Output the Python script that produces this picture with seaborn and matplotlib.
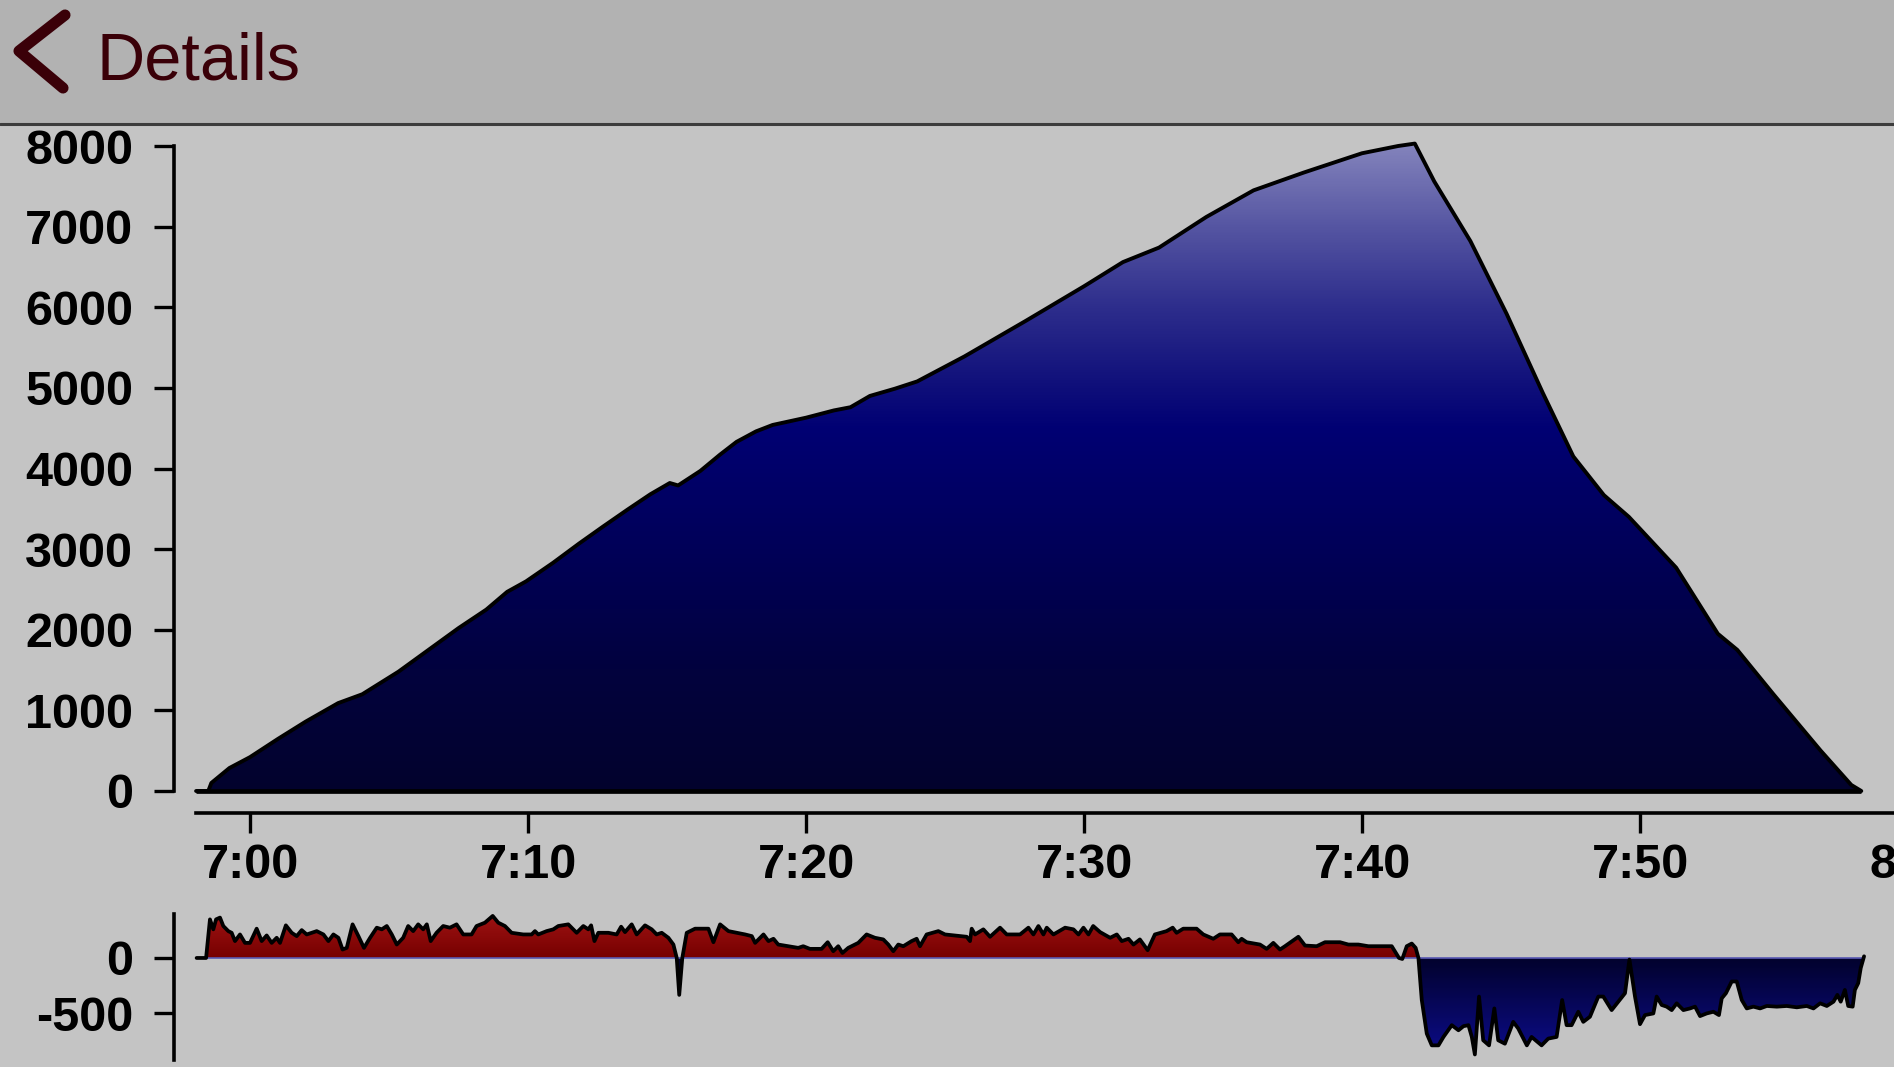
import numpy as np
import pandas as pd
import matplotlib
matplotlib.use("Agg")
import matplotlib.pyplot as plt
import seaborn as sns
from matplotlib.colors import LinearSegmentedColormap
from matplotlib.path import Path
from matplotlib.lines import Line2D
from matplotlib.patches import Rectangle

# ---------------- data ----------------
title_text = "Details"

# altitude profile (minutes after 7:00, value)
alt_minutes = [-1.94, -1.5, -1.39, -0.74, 0.0, 1.0, 2.0, 3.17, 4.04, 5.34, 6.5, 7.5,
               8.5, 9.25, 9.93, 10.9, 11.84, 12.7, 13.58, 14.4, 15.1, 15.4, 16.2,
               16.9, 17.5, 18.2, 18.8, 20.0, 21.0, 21.6, 22.3, 23.2, 24.0, 25.7,
               27.9, 30.0, 31.4, 32.7, 34.4, 36.1, 37.9, 40.0, 41.3, 41.9, 42.6,
               43.9, 45.2, 46.5, 47.6, 48.7, 49.6, 51.3, 52.8, 53.5, 54.8, 56.5,
               57.6, 57.96]
alt_values = [0, 0, 100, 285, 420, 645, 860, 1090, 1200, 1480, 1770, 2020,
              2250, 2470, 2600, 2830, 3070, 3280, 3490, 3680, 3820, 3790, 3970,
              4170, 4330, 4460, 4540, 4630, 4720, 4760, 4900, 4990, 5080, 5390,
              5830, 6260, 6560, 6740, 7120, 7450, 7670, 7910, 8000, 8030, 7560,
              6820, 5920, 4940, 4150, 3670, 3400, 2770, 1950, 1750, 1200, 500,
              75, 0]

# rate of change (minutes after 7:00, value)
rate_minutes = [
    -1.92, -1.58, -1.44, -1.32, -1.22, -1.08, -0.96, -0.78, -0.66, -0.54, -0.36, -0.18,
    0.0, 0.24, 0.42, 0.6, 0.78, 0.96, 1.08, 1.29, 1.5, 1.68, 1.86, 2.04, 2.4, 2.64,
    2.82, 3.0, 3.18, 3.33, 3.48, 3.69, 3.9, 4.1, 4.32, 4.56, 4.74, 4.92, 5.1, 5.28,
    5.51, 5.69, 5.87, 6.05, 6.23, 6.36, 6.5, 6.71, 6.95, 7.19, 7.43, 7.67, 7.97, 8.15,
    8.45, 8.73, 8.93, 9.17, 9.41, 9.83, 10.13, 10.25, 10.37, 10.67, 10.91, 11.09,
    11.45, 11.75, 11.99, 12.17, 12.27, 12.39, 12.53, 12.89, 13.19, 13.35, 13.49, 13.73,
    13.91, 14.21, 14.45, 14.63, 14.81, 15.05, 15.23, 15.35, 15.44, 15.55, 15.71, 16.01,
    16.49, 16.67, 16.91, 17.21, 17.51, 17.81, 18.05, 18.17, 18.47, 18.65, 18.83, 19.0,
    19.36, 19.72, 19.9, 20.14, 20.56, 20.78, 20.98, 21.16, 21.31, 21.52, 21.88, 22.18,
    22.48, 22.78, 22.96, 23.14, 23.32, 23.5, 23.8, 23.98,
    24.1, 24.34, 24.76, 25.0, 25.78, 25.9, 25.96, 26.08, 26.38, 26.62, 26.98, 27.22,
    27.7, 28.0, 28.18, 28.36, 28.54, 28.66, 28.9, 29.32, 29.62, 29.8, 29.98, 30.16,
    30.33, 30.58, 30.94, 31.18, 31.36, 31.6, 31.78, 32.01, 32.29, 32.55, 32.97, 33.19,
    33.33, 33.57, 34.05, 34.29, 34.65, 34.89, 35.31, 35.55, 35.67, 35.85, 36.33, 36.57,
    36.81, 37.05,
    37.23, 37.71, 37.95, 38.37, 38.67, 39.21, 39.51, 39.87, 40.23, 41.07, 41.33, 41.45,
    41.61, 41.79, 41.93, 42.03, 42.15, 42.33, 42.51, 42.75, 42.93, 43.23, 43.47, 43.65,
    43.83, 43.95, 44.06, 44.21, 44.36, 44.57, 44.76, 44.9, 45.14, 45.44, 45.62, 45.93,
    46.1, 46.46, 46.7, 47.0, 47.2, 47.36, 47.54, 47.78, 47.96, 48.2, 48.5, 48.68,
    48.98, 49.46, 49.62, 49.82, 50.0, 50.18, 50.48, 50.6, 50.78, 50.96, 51.14, 51.32,
    51.56, 51.8, 51.98, 52.16, 52.4, 52.64, 52.84, 52.94, 53.09, 53.3, 53.48, 53.66,
    53.84, 54.08, 54.32, 54.56, 54.92, 55.28, 55.64, 56.0, 56.24, 56.48, 56.72, 56.96,
    57.1, 57.22, 57.37, 57.49, 57.65, 57.73, 57.85, 57.94, 58.06]
rate_values = [
    0, 0, 348, 258, 348, 364, 288, 242, 227, 152, 212, 136,
    136, 264, 152, 203, 136, 182, 136, 294, 227, 197, 251, 212, 242, 212,
    152, 212, 182, 76, 91, 303, 197, 91, 182, 273, 258, 288, 212, 121,
    182, 288, 242, 303, 258, 303, 152, 227, 288, 273, 303, 212, 212, 288,
    318, 379, 318, 288, 227, 212, 212, 242, 212, 242, 258, 288,
    303, 227, 288, 258, 294, 152, 227, 227, 212, 282, 233, 303,
    212, 294, 258, 212, 227, 182, 121, 0, -333, 0, 227, 264,
    264, 142, 303, 242, 227, 212, 197, 136, 212, 152, 173, 121,
    106, 91, 106, 82, 82, 142, 61, 106, 45, 91, 136, 212,
    182, 167, 121, 61, 121, 106, 152, 173,
    106, 212, 242, 212, 191, 152, 264, 212, 258, 191, 273, 212,
    212, 273, 212, 288, 212, 273, 212, 273, 258, 212, 273, 212,
    288, 233, 182, 212, 152, 173, 121, 167, 70, 212, 242, 273,
    227, 264, 264, 212, 173, 212, 212, 142, 173, 142, 121, 82,
    136, 76,
    106, 191, 112, 106, 142, 142, 121, 121, 106, 106, 0, -9,
    106, 130, 91, 0, -379, -682, -788, -788, -712, -606, -652, -615,
    -606, -712, -870, -348, -742, -788, -455, -742, -773, -576, -636, -788,
    -712, -788, -727, -712, -379, -606, -606, -485, -576, -530, -348, -348,
    -470, -318, -15, -348, -597, -515, -500, -348, -424, -439, -470, -409,
    -470, -455, -439, -524, -500, -485, -515, -364, -318, -212, -212, -379,
    -455, -439, -455, -433, -439, -433, -445, -433, -455, -409, -433, -394,
    -333, -394, -288, -433, -439, -288, -227, -91, 15]

x_tick_minutes = [0, 10, 20, 30, 40, 50, 60]
x_tick_labels = ["7:00", "7:10", "7:20", "7:30", "7:40", "7:50", "8:00"]
alt_ticks = [0, 1000, 2000, 3000, 4000, 5000, 6000, 7000, 8000]
alt_tick_labels = ["0", "1000", "2000", "3000", "4000", "5000", "6000", "7000", "8000"]
rate_ticks = [-500, 0]
rate_tick_labels = ["-500", "0"]

# ---------------- style ----------------
sns.set_theme(style="ticks")
plt.rcParams['font.family'] = ['Liberation Sans', 'DejaVu Sans']

W, H = 1894, 1067
BG = "#c4c4c4"
fig = plt.figure(figsize=(W / 100, H / 100), dpi=100, facecolor=BG)


def fx(px):
    return px / W


def fy(py):
    return 1 - py / H


# layout in pixels
left_px, right_px = 196, 1960
px_per_min, zero_px = 27.8, 250
m_left = (left_px - zero_px) / px_per_min
m_right = (right_px - zero_px) / px_per_min
off_pt = 22 * 0.72

# header
fig.add_artist(Rectangle((0, fy(124)), 1, 124 / H, transform=fig.transFigure,
                         facecolor="#b2b2b2", edgecolor="none", zorder=0))
fig.add_artist(Line2D([0, 1], [fy(124), fy(124)], transform=fig.transFigure,
                      color="#3c3c3c", lw=2.2, zorder=1))
maroon = "#3a0008"
fig.add_artist(Line2D([fx(65), fx(19), fx(63)], [fy(15), fy(51), fy(88)],
                      transform=fig.transFigure, color=maroon, lw=8,
                      solid_capstyle="round", solid_joinstyle="round", zorder=2))
fig.text(fx(96), fy(80), title_text, color=maroon, fontsize=48,
         fontfamily=['Liberation Sans', 'DejaVu Sans'], va="baseline", ha="left")

# ---------------- main altitude chart ----------------
ax = fig.add_axes([fx(left_px), fy(791), (right_px - left_px) / W, (791 - 146) / H])
ax.set_facecolor("none")
df_alt = pd.DataFrame({"minute": alt_minutes, "alt": alt_values})

poly = ax.fill_between(df_alt["minute"], 0, df_alt["alt"], color="#000070", lw=0, zorder=1)
top_v = 8100
alt_cmap = LinearSegmentedColormap.from_list("alt", [
    (0.0, (3 / 255, 3 / 255, 45 / 255)),
    (1500 / top_v, (2 / 255, 2 / 255, 62 / 255)),
    (3000 / top_v, (0, 0, 88 / 255)),
    (4500 / top_v, (0, 0, 115 / 255)),
    (5200 / top_v, (20 / 255, 20 / 255, 125 / 255)),
    (6000 / top_v, (45 / 255, 45 / 255, 140 / 255)),
    (7000 / top_v, (85 / 255, 85 / 255, 162 / 255)),
    (1.0, (135 / 255, 135 / 255, 190 / 255)),
])
grad = np.linspace(0, 1, 512).reshape(-1, 1)
im = ax.imshow(grad, extent=[m_left, m_right, 0, top_v], origin="lower",
               aspect="auto", cmap=alt_cmap, zorder=2, interpolation="bilinear")
im.set_clip_path(poly.get_paths()[0], transform=ax.transData)

sns.lineplot(data=df_alt, x="minute", y="alt", color="black", lw=2.8, ax=ax,
             zorder=4, clip_on=False)
ax.plot([alt_minutes[0], alt_minutes[-1]], [0, 0], color="black", lw=3.4,
        zorder=4, clip_on=False, solid_capstyle="butt")

ax.set_xlim(m_left, m_right)
ax.set_ylim(0, 8000)
ax.set_xlabel("")
ax.set_ylabel("")
sns.despine(ax=ax, top=True, right=True)
for s in ["left", "bottom"]:
    ax.spines[s].set_position(("outward", off_pt))
    ax.spines[s].set_linewidth(2.6)
    ax.spines[s].set_color("black")
ax.set_xticks(x_tick_minutes, x_tick_labels, fontsize=35, fontweight="bold")
ax.set_yticks(alt_ticks, alt_tick_labels, fontsize=35, fontweight="bold")
ax.tick_params(axis="both", direction="out", length=14.4, width=2.4, colors="black")
ax.tick_params(axis="y", pad=15)
ax.tick_params(axis="x", pad=7)
ax.grid(False)

# ---------------- rate chart ----------------
ax2 = fig.add_axes([fx(left_px), fy(1060), (right_px - left_px) / W, (1060 - 913.6) / H])
ax2.set_facecolor("none")
df_rate = pd.DataFrame({"minute": rate_minutes, "rate": rate_values})
xr = df_rate["minute"].to_numpy(dtype=float)
yr = df_rate["rate"].to_numpy(dtype=float)

pos = ax2.fill_between(xr, 0, yr, where=yr >= 0, interpolate=True, color="#880000", lw=0, zorder=1)
neg = ax2.fill_between(xr, 0, yr, where=yr <= 0, interpolate=True, color="#00004a", lw=0, zorder=1)

red_cmap = LinearSegmentedColormap.from_list("red", [(0, (118 / 255, 0, 0)), (1, (160 / 255, 20 / 255, 20 / 255))])
blue_cmap = LinearSegmentedColormap.from_list("blue", [(0, (12 / 255, 12 / 255, 140 / 255)), (1, (2 / 255, 2 / 255, 45 / 255))])
im_r = ax2.imshow(grad, extent=[m_left, m_right, 0, 400], origin="lower", aspect="auto",
                  cmap=red_cmap, zorder=2, interpolation="bilinear")
im_r.set_clip_path(Path.make_compound_path(*pos.get_paths()), transform=ax2.transData)
im_b = ax2.imshow(grad, extent=[m_left, m_right, -900, 0], origin="lower", aspect="auto",
                  cmap=blue_cmap, zorder=2, interpolation="bilinear")
im_b.set_clip_path(Path.make_compound_path(*neg.get_paths()), transform=ax2.transData)

ax2.plot([xr[0], xr[-1]], [0, 0], color="#5a5ab4", lw=1.2, zorder=3)
sns.lineplot(data=df_rate, x="minute", y="rate", color="black", lw=2.7, ax=ax2,
             zorder=4, clip_on=False)

ax2.set_xlim(m_left, m_right)
ax2.set_ylim(-920, 400)
ax2.set_xlabel("")
ax2.set_ylabel("")
sns.despine(ax=ax2, top=True, right=True, bottom=True)
ax2.spines["left"].set_position(("outward", off_pt))
ax2.spines["left"].set_linewidth(2.6)
ax2.spines["left"].set_color("black")
ax2.set_xticks([])
ax2.set_yticks(rate_ticks, rate_tick_labels, fontsize=35, fontweight="bold")
ax2.tick_params(axis="y", direction="out", length=14.4, width=2.4, colors="black", pad=15)
ax2.grid(False)

fig.savefig("out.png", dpi=100, facecolor=BG)
